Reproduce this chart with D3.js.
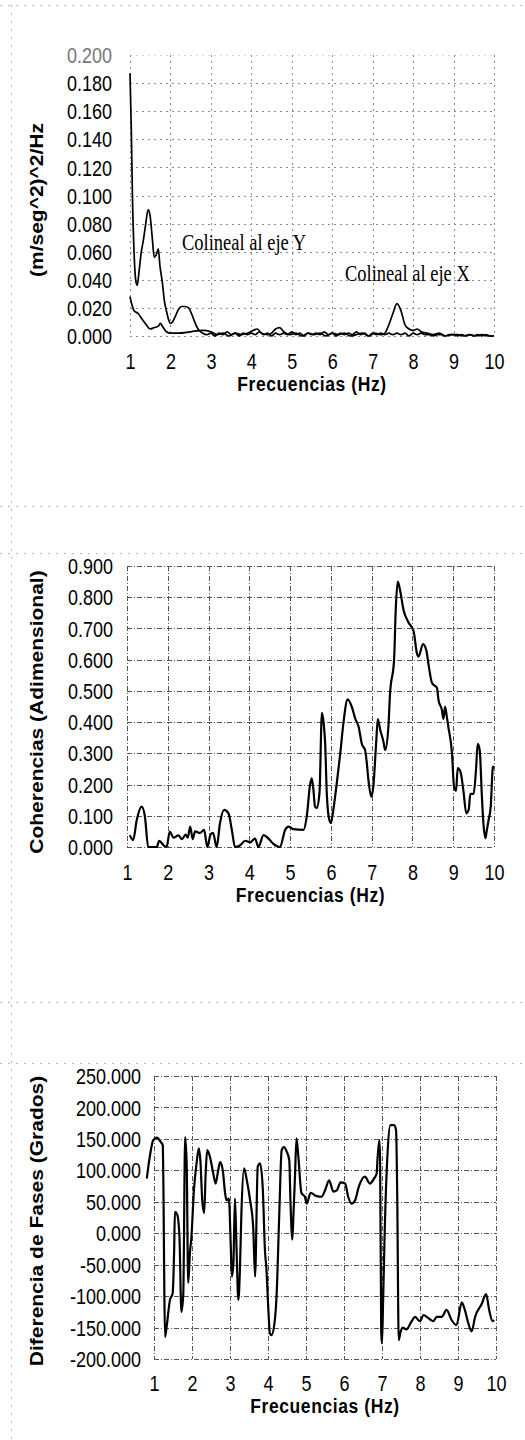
<!DOCTYPE html>
<html>
<head>
<meta charset="utf-8">
<script src="https://cdn.jsdelivr.net/npm/d3@7"></script>
<style>
  html, body { margin: 0; padding: 0; background: #fff; }
  svg { display: block; }
</style>
</head>
<body>
<script>
// ---------------- DATA ----------------
const freqTicks = [1, 2, 3, 4, 5, 6, 7, 8, 9, 10];
const psdTicks = [0, 0.02, 0.04, 0.06, 0.08, 0.10, 0.12, 0.14, 0.16, 0.18, 0.20];
const cohTicks = [0, 0.1, 0.2, 0.3, 0.4, 0.5, 0.6, 0.7, 0.8, 0.9];
const phaseTicks = [-200, -150, -100, -50, 0, 50, 100, 150, 200, 250];

const psdYFreq = [1.00,1.03,1.06,1.10,1.15,1.18,1.22,1.28,1.33,1.38,1.45,1.50,1.55,1.60,1.65,1.70,1.74,1.80,1.85,1.90,1.95,2.00,2.05,2.12,2.20,2.28,2.36,2.45,2.52,2.60,2.68,2.75,
  2.8,2.9,3.0,3.1,3.2,3.3,3.4,3.5,3.6,3.7,3.8,3.9,4.0,4.1,4.2,4.3,4.4,4.5,4.6,4.7,4.8,4.9,5.0,5.1,5.2,5.3,5.4,5.5,5.6,5.7,5.8,5.9,6.0,6.1,6.2,6.3,6.4,6.5,6.6,6.7,6.8,6.9,7.0,7.1,7.2,7.3,7.4,7.5,7.6,7.7,7.8,7.9,8.0,8.1,8.2,8.3,8.4,8.5,8.6,8.7,8.8,8.9,9.0,9.1,9.2,9.3,9.4,9.5,9.6,9.7,9.8,9.9,10.0];
const psdYVal = [0.187,0.150,0.100,0.060,0.038,0.036,0.045,0.060,0.068,0.078,0.090,0.085,0.070,0.056,0.058,0.062,0.050,0.038,0.025,0.018,0.012,0.009,0.010,0.014,0.019,0.021,0.021,0.020,0.016,0.010,0.005,0.003,
  0.002,0.001,0.002,0.000,0.002,0.001,0.003,0.001,0.002,0.000,0.002,0.001,0.002,0.001,0.003,0.001,0.002,0.000,0.002,0.001,0.002,0.001,0.003,0.001,0.002,0.000,0.002,0.001,0.002,0.001,0.003,0.001,0.002,0.000,0.002,0.001,0.002,0.001,0.003,0.001,0.002,0.000,0.002,0.001,0.002,0.001,0.002,0.001,0.002,0.001,0.002,0.000,0.002,0.001,0.002,0.001,0.001,0.000,0.001,0.001,0.000,0.001,0.001,0.000,0.001,0.000,0.001,0.000,0.001,0.000,0.001,0.000,0.000];

const psdXFreq = [1.00,1.05,1.10,1.20,1.30,1.40,1.50,1.60,1.70,1.75,1.80,1.90,2.00,2.20,2.50,2.80,3.00,3.15,3.30,3.45,3.60,3.75,3.90,4.05,4.15,4.25,4.40,4.50,4.60,4.70,4.80,4.95,5.10,5.25,5.40,5.55,5.70,5.85,6.00,6.15,6.30,6.45,6.60,6.75,6.90,7.05,7.20,7.30,7.40,7.50,7.60,7.70,7.80,7.90,8.00,8.10,8.20,8.35,8.50,8.65,8.80,8.95,9.10,9.25,9.40,9.55,9.70,9.85,10.00];
const psdXVal = [0.028,0.022,0.018,0.016,0.012,0.008,0.005,0.006,0.007,0.009,0.007,0.003,0.002,0.002,0.003,0.004,0.003,0.001,0.002,0.000,0.002,0.001,0.002,0.004,0.005,0.002,0.001,0.002,0.005,0.006,0.003,0.001,0.002,0.000,0.002,0.001,0.002,0.000,0.002,0.001,0.002,0.000,0.001,0.002,0.000,0.002,0.001,0.002,0.008,0.016,0.023,0.018,0.008,0.005,0.004,0.005,0.003,0.002,0.001,0.002,0.000,0.001,0.001,0.000,0.001,0.000,0.001,0.000,0.000];

const cohFreq = [1.07,1.15,1.24,1.36,1.44,1.52,1.73,1.79,1.90,1.97,2.05,2.14,2.26,2.35,2.44,2.49,2.55,2.61,2.67,2.79,2.89,2.97,3.05,3.11,3.20,3.28,3.38,3.49,3.57,3.65,3.77,3.90,4.02,4.14,4.22,4.35,4.47,4.59,4.75,4.88,4.96,5.08,5.33,5.41,5.49,5.53,5.57,5.61,5.65,5.72,5.78,5.82,5.86,5.90,5.96,6.00,6.06,6.14,6.23,6.31,6.41,6.51,6.60,6.68,6.76,6.84,6.88,6.92,6.99,7.04,7.11,7.15,7.21,7.29,7.33,7.41,7.45,7.55,7.59,7.64,7.70,7.78,7.90,8.03,8.11,8.15,8.26,8.34,8.40,8.48,8.60,8.64,8.72,8.76,8.80,8.84,8.88,8.97,9.02,9.07,9.11,9.18,9.25,9.32,9.38,9.42,9.50,9.56,9.60,9.65,9.70,9.74,9.79,9.82,9.87,9.92,9.97,9.99];
const cohVal = [0.038,0.022,0.087,0.129,0.097,0.0,0.0,0.020,0.005,0.0,0.049,0.030,0.037,0.025,0.040,0.030,0.065,0.025,0.050,0.045,0.055,0.0,0.040,0.045,0.0,0.076,0.119,0.108,0.055,0.0,0.005,0.020,0.015,0.027,0.0,0.038,0.027,0.010,0.0,0.055,0.065,0.057,0.055,0.100,0.200,0.220,0.185,0.130,0.125,0.172,0.430,0.400,0.330,0.170,0.087,0.077,0.119,0.200,0.300,0.400,0.473,0.450,0.410,0.385,0.330,0.310,0.270,0.215,0.161,0.193,0.333,0.410,0.375,0.337,0.310,0.385,0.490,0.600,0.760,0.850,0.820,0.760,0.720,0.690,0.620,0.610,0.650,0.630,0.580,0.525,0.510,0.470,0.440,0.410,0.450,0.420,0.385,0.300,0.193,0.180,0.253,0.240,0.180,0.108,0.120,0.170,0.170,0.250,0.330,0.310,0.170,0.076,0.028,0.050,0.088,0.130,0.253,0.260];

const phaseFreq = [0.81,0.89,0.98,1.07,1.18,1.23,1.25,1.27,1.29,1.33,1.42,1.49,1.53,1.55,1.61,1.67,1.72,1.77,1.82,1.86,1.90,1.95,1.98,2.05,2.12,2.18,2.22,2.27,2.32,2.36,2.40,2.47,2.56,2.62,2.69,2.74,2.81,2.87,2.91,2.97,3.02,3.05,3.09,3.13,3.17,3.22,3.26,3.30,3.37,3.44,3.53,3.61,3.66,3.73,3.79,3.86,3.92,3.96,4.01,4.05,4.09,4.18,4.24,4.28,4.30,4.36,4.42,4.49,4.56,4.59,4.62,4.64,4.67,4.71,4.75,4.80,4.88,4.97,5.02,5.12,5.28,5.41,5.50,5.61,5.72,5.81,5.91,6.03,6.11,6.20,6.29,6.39,6.55,6.68,6.79,6.86,6.88,6.93,6.95,6.98,7.00,7.03,7.07,7.15,7.22,7.32,7.37,7.40,7.44,7.48,7.54,7.64,7.78,7.87,8.00,8.09,8.22,8.35,8.44,8.57,8.70,8.83,8.96,9.10,9.18,9.27,9.36,9.45,9.62,9.74,9.82,9.91,9.95];
const phaseVal = [87,122,148,152,145,140,60,-80,-165,-150,-106,-96,-27,34,30,-6,-125,-98,153,110,-79,-27,-10,68,111,135,116,52,32,95,132,122,95,79,100,113,100,64,52,55,-20,-69,-47,55,-20,-106,-60,32,103,85,52,10,-69,106,111,74,-27,-58,-122,-159,-162,-138,-79,0,37,132,137,130,116,52,5,-10,30,90,151,121,64,58,47,64,59,58,68,84,66,68,81,79,58,47,52,74,90,79,87,95,116,148,116,-159,-175,-106,0,132,172,172,164,64,-170,-159,-150,-153,-140,-133,-140,-130,-135,-140,-133,-133,-122,-138,-146,-110,-122,-143,-156,-133,-113,-97,-122,-140,-138];

// faint scanned chart-area borders (horizontal y positions of the dotted frame lines)
const frameRows = [5, 506, 553, 1002, 1063];

// ---------------- DRAWING ----------------
const W = 525, H = 1440;
const svg = d3.select("body").append("svg").attr("width", W).attr("height", H)
  .style("font-family", "'Liberation Sans', Arial, sans-serif");

// faint frame lines
const frame = svg.append("g").attr("stroke", "#b8b8b8").attr("stroke-width", 1)
  .attr("stroke-dasharray", "2,6").attr("fill", "none");
frame.selectAll("line.row").data(frameRows).join("line")
  .attr("x1", 0).attr("x2", W).attr("y1", d => d + 0.5).attr("y2", d => d + 0.5);
frame.append("line").attr("x1", 11.5).attr("x2", 11.5).attr("y1", 5).attr("y2", H);

const STRETCH = 1.2;
const fmt3 = v => v.toFixed(3);

function drawChart(cfg) {
  const x = d3.scaleLinear().domain([1, 10]).range([cfg.left, cfg.right]);
  const y = d3.scaleLinear().domain(cfg.yDomain).range([cfg.bottom, cfg.top]);
  const g = svg.append("g");

  // grid
  const grid = g.append("g").attr("fill", "none")
    .attr("stroke", cfg.gridColor).attr("stroke-width", 1)
    .attr("stroke-dasharray", cfg.gridDash);
  grid.selectAll("line.h").data(cfg.yTicks).join("line")
    .attr("x1", cfg.left).attr("x2", cfg.right)
    .attr("y1", d => Math.round(y(d)) + 0.5).attr("y2", d => Math.round(y(d)) + 0.5)
    .attr("opacity", (d, i) => (cfg.fadeTop && i === cfg.yTicks.length - 1) ? 0.35 : 1);
  grid.selectAll("line.v").data(freqTicks).join("line")
    .attr("x1", d => Math.round(x(d)) + 0.5).attr("x2", d => Math.round(x(d)) + 0.5)
    .attr("y1", cfg.top).attr("y2", cfg.bottom);

  // y axis labels
  const yAx = g.append("g").attr("transform", `translate(${cfg.left - cfg.yLabelGap},0)`)
    .call(d3.axisLeft(y).tickValues(cfg.yTicks).tickFormat(fmt3).tickSize(0).tickPadding(0));
  yAx.select(".domain").remove();
  yAx.selectAll("text")
    .attr("font-size", 18).attr("font-family", "'Liberation Sans', Arial, sans-serif")
    .attr("fill", (d, i) => (cfg.fadeTop && i === cfg.yTicks.length - 1) ? "#777" : "#000")
    .attr("dy", null).attr("dominant-baseline", "central")
    .attr("transform", `scale(1,${STRETCH})`);

  // x axis labels
  const xAx = g.append("g").attr("transform", `translate(0,${cfg.xLabelY})`)
    .call(d3.axisBottom(x).tickValues(freqTicks).tickFormat(d3.format("d")).tickSize(0).tickPadding(0));
  xAx.select(".domain").remove();
  xAx.selectAll("text")
    .attr("font-size", 18).attr("font-family", "'Liberation Sans', Arial, sans-serif")
    .attr("fill", "#000").attr("y", 0).attr("dy", null).attr("dominant-baseline", "central")
    .attr("transform", `scale(1,${STRETCH})`);

  // x title
  g.append("text")
    .attr("transform", `translate(${(cfg.left + cfg.right) / 2},${cfg.xTitleY}) scale(1,${STRETCH})`)
    .attr("text-anchor", "middle").attr("dominant-baseline", "central")
    .attr("font-size", 17.5).attr("font-weight", "bold").attr("letter-spacing", 0.6)
    .text("Frecuencias (Hz)");

  // y title
  g.append("text")
    .attr("transform", `translate(${cfg.yTitleX},${cfg.yTitleY}) scale(1,${STRETCH}) rotate(-90)`)
    .attr("text-anchor", "middle").attr("dominant-baseline", "central")
    .attr("font-size", 17.5).attr("font-weight", "bold")
    .text(cfg.yTitle);

  // series
  const line = d3.line().x(d => x(d[0])).y(d => y(d[1])).curve(d3.curveMonotoneX);
  cfg.series.forEach(s => {
    const pts = s.f.map((f, i) => [f, s.v[i]]);
    g.append("path").datum(pts).attr("d", line)
      .attr("fill", "none").attr("stroke", "#000")
      .attr("stroke-width", s.w).attr("stroke-linejoin", "round");
  });
  return { x, y, g };
}

// Chart 1: spectral density
const c1 = drawChart({
  left: 130, right: 494, top: 55, bottom: 336,
  yDomain: [0, 0.2], yTicks: psdTicks, yLabelGap: 18,
  gridColor: "#8a8a8a", gridDash: "2,4", fadeTop: true,
  xLabelY: 361, xTitleY: 384,
  yTitle: "(m/seg^2)^2/Hz", yTitleX: 37, yTitleY: 200,
  series: [
    { f: psdXFreq, v: psdXVal, w: 1.7 },
    { f: psdYFreq, v: psdYVal, w: 1.7 }
  ]
});
c1.g.append("text")
  .attr("transform", `translate(182,242) scale(1,${STRETCH})`)
  .attr("dominant-baseline", "central")
  .attr("font-family", "'Liberation Serif', 'Times New Roman', serif")
  .attr("font-size", 18.5).text("Colineal al eje Y");
c1.g.append("text")
  .attr("transform", `translate(345,273) scale(1,${STRETCH})`)
  .attr("dominant-baseline", "central")
  .attr("font-family", "'Liberation Serif', 'Times New Roman', serif")
  .attr("font-size", 18.5).text("Colineal al eje X");

// Chart 2: coherence
drawChart({
  left: 127, right: 494, top: 566, bottom: 847,
  yDomain: [0, 0.9], yTicks: cohTicks, yLabelGap: 14,
  gridColor: "#555", gridDash: "5,2,1,2", fadeTop: false,
  xLabelY: 872, xTitleY: 895,
  yTitle: "Coherencias (Adimensional)", yTitleX: 37, yTitleY: 712,
  series: [{ f: cohFreq, v: cohVal, w: 2.2 }]
});

// Chart 3: phase difference
drawChart({
  left: 154, right: 496, top: 1076, bottom: 1359,
  yDomain: [-200, 250], yTicks: phaseTicks, yLabelGap: 13,
  gridColor: "#555", gridDash: "5,2,1,2", fadeTop: false,
  xLabelY: 1383, xTitleY: 1406,
  yTitle: "Diferencia de Fases (Grados)", yTitleX: 37, yTitleY: 1221,
  series: [{ f: phaseFreq, v: phaseVal, w: 2.2 }]
});
</script>
</body>
</html>
